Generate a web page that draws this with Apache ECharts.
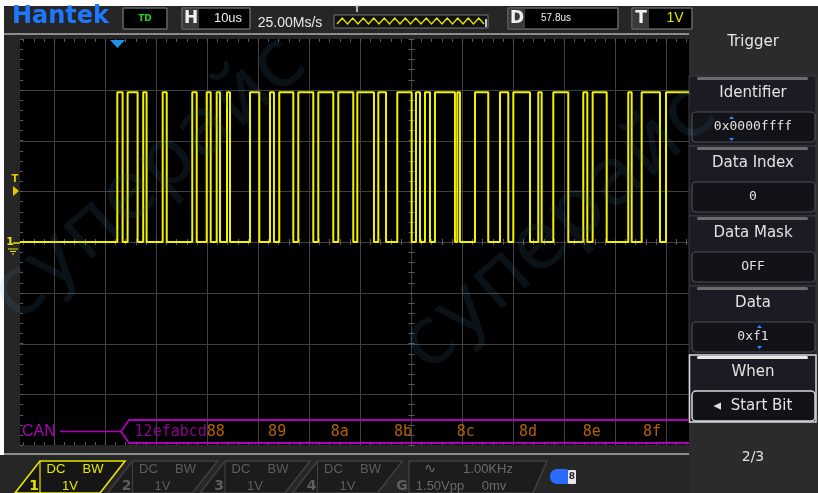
<!DOCTYPE html>
<html><head><meta charset="utf-8">
<script src="https://cdn.jsdelivr.net/npm/echarts@6/dist/echarts.min.js"></script>
<style>html,body{margin:0;padding:0;background:#fff}#c{width:818px;height:493px}</style>
</head><body><div id="c"></div>
<script>
// ---------------- DATA ----------------
// CAN bus trace (CH1): times (µs, trigger = 0) at which the level toggles; starts low
const edgeTimes = [0.06, 1.10, 2.08, 4.04, 5.14, 5.80, 8.96, 9.75, 14.76, 15.63, 17.59, 18.37,
  19.55, 20.20, 21.57, 22.16, 26.08, 27.90, 30.00, 30.78, 31.82, 34.57, 35.55, 38.49, 39.47,
  42.41, 43.39, 46.33, 47.12, 50.39, 51.24, 52.75, 54.96, 57.78, 58.63, 59.41, 60.39, 61.37,
  62.35, 66.27, 66.73, 67.25, 70.20, 72.80, 75.10, 76.73, 77.71, 80.98, 82.61, 83.27, 85.55,
  88.49, 91.43, 92.22, 93.27, 96.02, 100.25, 100.92, 102.88, 106.47, 107.65];
const lowLevel = 0.0;     // V
const highLevel = 2.95;   // V
const timeStart = -19.02; // µs, left edge of screen
const timeEnd = 112.16;   // µs, right edge of screen
const voltMin = -4, voltMax = 4;        // 1 V/div, 8 divisions
const firstGridTime = -12.35;           // first vertical graticule line
const timePerDiv = 10;                  // 10 µs/div
const centerTime = 57.65;               // ticked centre line
const triggerLevel = 1.0;               // V

// CAN decode
const canId = '12efabcd';
const canBytes = ['88', '89', '8a', '8b', '8c', '8d', '8e', '8f'];
const canByteTimes = [19.0, 31.4, 43.7, 56.1, 68.4, 80.6, 93.1, 104.9];
const canRowVolt = -3.74;

// Right menu
const menuTitle = 'Trigger';
const menuLabels = ['Identifier', 'Data Index', 'Data Mask', 'Data', 'When'];
const menuValues = ['0x0000ffff', '0', 'OFF', '0xf1', '\u25C2  Start Bit'];
const pageText = '2/3';

// Top status bar
const timebase = '10us', sampleRate = '25.00Ms/s', delay = '57.8us', trigVolt = '1V', trigMode = 'TD';
// Bottom channel bar
const channels = ['1', '2', '3', '4'];
const chCoupling = 'DC', chBW = 'BW', chScale = '1V';
const genFreq = '1.00KHz', genAmp = '1.50Vpp', genOffset = '0mv';

// ---------------- BUILD ----------------
function buildTrace() {
  const pts = [[timeStart, lowLevel]];
  let lvl = lowLevel;
  edgeTimes.forEach(t => {
    pts.push([t, lvl]);
    lvl = (lvl === lowLevel) ? highLevel : lowLevel;
    pts.push([t, lvl]);
  });
  pts.push([timeEnd, lvl]);
  return pts;
}

// graticule items: [kind, value]
const grat = [];
for (let t = firstGridTime; t < timeEnd; t += timePerDiv) grat.push([0, t]);
for (let v = voltMin + 1; v < voltMax; v += 1) grat.push([1, v]);
for (let t = firstGridTime - 6 * 2; t < timeEnd; t += 2) if (t > timeStart) grat.push([2, t]);
for (let v = voltMin; v <= voltMax + 1e-9; v += 0.2) grat.push([3, v]);

const G = [];
function txt(x, y, text, font, fill, align, extra) {
  G.push(Object.assign({ type: 'text', x: x, y: y, z: 20,
    style: { text: text, font: font, fill: fill, textAlign: align || 'center', textVerticalAlign: 'middle' } }, extra || {}));
}
function rect(x, y, w, h, fill, stroke, r, lw, z) {
  G.push({ type: 'rect', z: z || 10, shape: { x: x, y: y, width: w, height: h, r: r || 0 },
    style: { fill: fill || null, stroke: stroke || null, lineWidth: lw || 1 } });
}
function poly(points, stroke, fill, lw, z) {
  G.push({ type: fill ? 'polygon' : 'polyline', z: z || 12, shape: { points: points },
    style: { stroke: stroke || null, fill: fill || null, lineWidth: lw || 1 } });
}

// white margins
rect(0, 0, 818, 6, '#ffffff', null, 0, 1, 1);
rect(0, 0, 4, 455, '#ffffff', null, 0, 1, 1);
// right panel
rect(689, 6, 129, 487, '#2b2b2b', null, 0, 1, 2);
// separators
rect(4, 33, 685, 2, '#8c8c8c', null, 0, 1, 3);
rect(4, 453, 685, 2, '#8c8c8c', null, 0, 1, 3);

// ---- top bar ----
txt(12, 17, 'Hantek', 'bold 24px "DejaVu Sans"', '#1e78ff', 'left');
rect(123, 8, 44, 21, '#000', '#666', 1, 1.5);
txt(145, 18.5, trigMode, 'bold 9px "DejaVu Sans"', '#22d022');
rect(182, 8, 68, 21, '#000', '#666', 1, 1.5);
rect(183, 9, 16, 19, '#3a3a3a');
txt(191, 18.5, 'H', 'bold 17px "DejaVu Sans"', '#f0f0f0');
txt(228, 18.5, timebase, '13px "Liberation Sans"', '#f0f0f0');
txt(290, 23, sampleRate, '14px "Liberation Sans"', '#e8e8e8');
rect(334, 15, 154, 13, '#111', '#777', 0, 1);
(function () {
  const pts = [];
  for (let x = 337, i = 0; x <= 484; x += 5.25, i++) pts.push([x, i % 2 ? 18 : 24]);
  poly(pts, '#e6e600', null, 1.3, 13);
})();
poly([[486, 19], [486, 27]], '#ffffff', null, 1.5, 13);
txt(357, 10, 'T', 'bold 8px "DejaVu Sans"', '#dddddd');
rect(508, 8, 110, 21, '#000', '#666', 1, 1.5);
rect(509, 9, 16, 19, '#3a3a3a');
txt(517, 18.5, 'D', 'bold 17px "DejaVu Sans"', '#f0f0f0');
txt(556, 18.5, delay, '10px "Liberation Sans"', '#f0f0f0');
rect(632, 8, 60, 21, '#000', '#666', 1, 1.5);
rect(633, 9, 16, 19, '#3a3a3a');
txt(641, 18.5, 'T', 'bold 17px "DejaVu Sans"', '#f0f0f0');
txt(675, 18.5, trigVolt, '14px "Liberation Sans"', '#e6e600');

// ---- right menu ----
txt(753, 42, menuTitle, '15px "DejaVu Sans"', '#e6e6e6');
const groupTops = [76, 146, 216, 286, 355];
groupTops.forEach((top, i) => {
  const last = i === groupTops.length - 1;
  const h = last ? 67 : 70;
  rect(689, top, 127, h, '#1b1c23', '#3a3b44', 0, 1, 4);
  rect(697, top + 1, 111, 3, last ? '#e8e8e8' : '#6c6c6c', null, 1.5, 1, 5);
  txt(753, top + 17, menuLabels[i], '15px "DejaVu Sans"', '#e2e2e2');
  rect(692, top + 36, 123, 30, '#121219', last ? '#d8d8d8' : '#4d4d56', 4, last ? 1.5 : 1.2, 6);
  txt(753, top + 51, menuValues[i], (i === 4 ? '15px "DejaVu Sans"' : '13px "DejaVu Sans Mono"'), '#e2e2e2');
  if (last) rect(689.5, top, 126.5, h, null, '#d8d8d8', 0, 1.5, 7);
});
// blue edit cursors
poly([[729, 119], [731.5, 116], [734, 119]], null, '#2a8cff', 1, 21);
poly([[729, 138], [731.5, 141], [734, 138]], null, '#2a8cff', 1, 21);
poly([[757, 328], [759.5, 325], [762, 328]], null, '#2a8cff', 1, 21);
poly([[757, 346], [759.5, 349], [762, 346]], null, '#2a8cff', 1, 21);
txt(753, 457, pageText, '14px "DejaVu Sans"', '#e0e0e0');

// ---- bottom channel bar ----
channels.forEach((c, k) => {
  const ox = 92.5 * k;
  const on = k === 0;
  const col = on ? '#e6e600' : '#3e3e3e';
  const tc = on ? '#e6e600' : '#5e5e5e';
  poly([[15 + ox, 493], [40 + ox, 461], [125 + ox, 461], [100 + ox, 493]], col, on ? '#161616' : '#1c1c1c', 1.6, 11);
  poly([[40 + ox, 461], [40 + ox, 493]], col, null, 1.2, 12);
  txt(34 + ox, 486, c, 'bold 14px "DejaVu Sans"', tc);
  txt(56 + ox, 469, chCoupling, '13px "Liberation Sans"', tc);
  txt(93 + ox, 469, chBW, '13px "Liberation Sans"', tc);
  txt(70 + ox, 486, chScale, '13px "Liberation Sans"', tc);
});
poly([[409, 461], [547, 461], [533, 493], [409, 493]], '#3e3e3e', '#1c1c1c', 1.6, 11);
txt(402, 486, 'G', 'bold 14px "DejaVu Sans"', '#5e5e5e');
txt(430, 469, '\u223F', '14px "DejaVu Sans"', '#6a6a6a');
txt(488, 469, genFreq, '13px "Liberation Sans"', '#6a6a6a');
txt(440, 486, genAmp, '13px "Liberation Sans"', '#6a6a6a');
txt(494, 486, genOffset, '13px "Liberation Sans"', '#6a6a6a');
G.push({ type: 'rect', z: 12, shape: { x: 550, y: 469, width: 19, height: 15, r: [7, 4, 2, 7] }, style: { fill: '#2a6cff' } });
rect(568, 470, 8, 14, '#e8e8e8', null, 1, 1, 13);
txt(572, 477, '8', 'bold 9px "DejaVu Sans"', '#222');

// ---- screen markers ----
txt(10, 242, '1', 'bold 11px "DejaVu Sans"', '#e6e600');
poly([[13, 243], [20, 243]], '#e6e600', null, 1.5, 21);
poly([[8, 249], [18, 249]], '#e6e600', null, 1, 21);
poly([[10, 251.5], [16, 251.5]], '#e6e600', null, 1, 21);
poly([[12, 254], [14, 254]], '#e6e600', null, 1, 21);
txt(15, 179, 'T', 'bold 10px "DejaVu Sans"', '#e6c800');
poly([[13, 186], [19, 191], [13, 196]], null, '#e6c800', 1, 21);
poly([[110, 40], [125, 40], [117.5, 48]], null, '#1e90e8', 1, 21);
const canTop = 420, canBot = 443, canMid = 431.5;
txt(22, canMid, 'CAN', '16px "Liberation Sans"', '#b000b8', 'left');
poly([[60, canMid], [121, canMid]], '#b000b8', null, 1.5, 21);
poly([[689, canTop], [129, canTop], [121, canMid], [129, canBot], [689, canBot]], '#b000b8', null, 1.8, 21);

// watermark
const wm = { type: 'text', z: 30, silent: true, style: { text: 'суперайс', font: '80px "DejaVu Sans"', fill: 'rgba(80,130,180,0.13)', textAlign: 'center', textVerticalAlign: 'middle' } };
G.push(Object.assign({}, wm, { x: 150, y: 180, rotation: 0.72 }));
G.push(Object.assign({}, wm, { x: 560, y: 230, rotation: 0.72 }));

// ---------------- CHART ----------------
const chart = echarts.init(document.getElementById('c'), null, { renderer: 'canvas' });
chart.setOption({
  backgroundColor: '#262626',
  animation: false,
  grid: { left: 20, right: 129, top: 39, bottom: 48, show: true, backgroundColor: '#000000', borderWidth: 0 },
  xAxis: { type: 'value', min: timeStart, max: timeEnd, show: false },
  yAxis: { type: 'value', min: voltMin, max: voltMax, interval: 1, show: false },
  graphic: { elements: G },
  series: [
    {
      type: 'custom', z: 1, silent: true, data: grat,
      renderItem: function (params, api) {
        const kind = api.value(0), v = api.value(1);
        const st = { stroke: '#404040', lineWidth: 1 };
        const tk = { stroke: '#5a5a5a', lineWidth: 1 };
        if (kind === 0) {
          const a = api.coord([v, voltMax]), b = api.coord([v, voltMin]);
          return { type: 'line', shape: { x1: Math.round(a[0]) + 0.5, y1: a[1], x2: Math.round(a[0]) + 0.5, y2: b[1] }, style: st };
        }
        if (kind === 1) {
          const a = api.coord([timeStart, v]), b = api.coord([timeEnd, v]);
          return { type: 'line', shape: { x1: a[0], y1: Math.round(a[1]) + 0.5, x2: b[0], y2: Math.round(a[1]) + 0.5 }, style: st };
        }
        if (kind === 2) {
          const t = api.coord([v, voltMax]), b = api.coord([v, voltMin]), c = api.coord([v, 0]);
          const x = Math.round(t[0]) + 0.5;
          return { type: 'group', children: [
            { type: 'line', shape: { x1: x, y1: t[1], x2: x, y2: t[1] + 3 }, style: tk },
            { type: 'line', shape: { x1: x, y1: b[1], x2: x, y2: b[1] - 3 }, style: tk },
            { type: 'line', shape: { x1: x, y1: c[1] - 3, x2: x, y2: c[1] + 3 }, style: tk }
          ] };
        }
        const l = api.coord([timeStart, v]), m = api.coord([centerTime, v]);
        const y = Math.round(l[1]) + 0.5, mx = Math.round(m[0]) + 0.5;
        return { type: 'group', children: [
          { type: 'line', shape: { x1: l[0], y1: y, x2: l[0] + 3, y2: y }, style: tk },
          { type: 'line', shape: { x1: mx - 3, y1: y, x2: mx + 3, y2: y }, style: tk }
        ] };
      }
    },
    {
      type: 'line', z: 5, data: buildTrace(), showSymbol: false, silent: true,
      lineStyle: { color: '#f2f200', width: 2 }
    },
    {
      type: 'scatter', z: 6, silent: true, symbolSize: 0,
      data: canBytes.map((b, i) => {
        const item = { value: [canByteTimes[i], canRowVolt], name: b };
        if (i === 0) item.label = { formatter: '{m|' + canId + '}{o|' + b + '}', align: 'right', offset: [11, 0] };
        return item;
      }),
      label: {
        show: true, position: 'inside', formatter: '{o|{b}}',
        rich: {
          o: { color: '#e07800', fontSize: 15, fontFamily: 'DejaVu Sans Mono' },
          m: { color: '#b000b8', fontSize: 15, fontFamily: 'DejaVu Sans Mono' }
        }
      }
    }
  ]
});
</script></body></html>
